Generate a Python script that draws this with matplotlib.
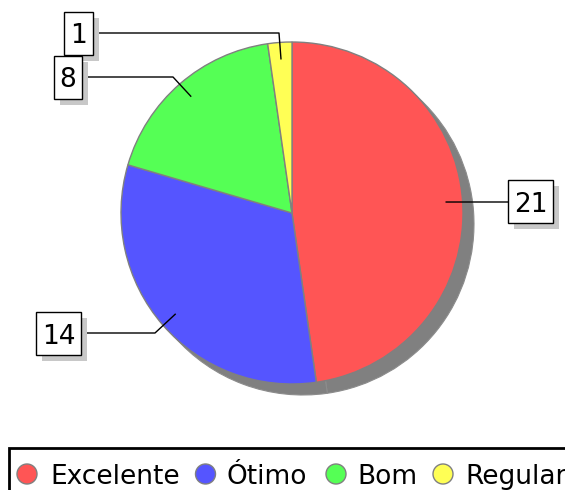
import numpy as np
import matplotlib
matplotlib.use("Agg")
import matplotlib.pyplot as plt
from matplotlib.patches import Circle, Rectangle

categories = ["Excelente", "Ótimo", "Bom", "Regular"]
values = [21, 14, 8, 1]
colors = ["#FF5555", "#5555FF", "#55FF55", "#FFFF55"]

W, H = 565, 490
fig = plt.figure(figsize=(W / 100, H / 100), dpi=100)
ax = fig.add_axes([0, 0, 1, 1])

def Y(y):
    return H - y

cx, cy, r = 292, 213, 171
shadow = (11, 11)

# shadow pie
ax.pie(values, colors=["#808080"] * 4, startangle=90, counterclock=False,
       center=(cx + shadow[0], Y(cy + shadow[1])), radius=r,
       wedgeprops=dict(edgecolor="#8c8c8c", linewidth=0.8), frame=True)
# main pie
ax.pie(values, colors=colors, startangle=90, counterclock=False,
       center=(cx, Y(cy)), radius=r,
       wedgeprops=dict(edgecolor="#808080", linewidth=1.0), frame=True)
ax.set_xlim(0, W)
ax.set_ylim(0, H)
ax.set_aspect("equal")
ax.axis("off")

# label layout (box centres and elbow points, pixel coords)
box_centres = [(530.5, 201.5), (58.5, 333.5), (68, 77.5), (78.5, 33.5)]
elbows = [(470, 202), (155, 333), (173, 77), (279, 33)]
box_edge = [508, 81, 82, 92]
box_h = 43
hpad = 6

total = sum(values)
cum = np.cumsum([0] + values)
fs = 19
order = [0, 1, 3, 2]
texts = []
z = 6
for i in order:
    mid = (cum[i] + cum[i + 1]) / 2 / total * 2 * np.pi  # clockwise from top
    ax_x = cx + 0.9 * r * np.sin(mid)
    ax_y = cy - 0.9 * r * np.cos(mid)
    ex, ey = elbows[i]
    bx, by = box_centres[i]
    ax.plot([ax_x, ex, box_edge[i]], [Y(ax_y), Y(ey), Y(ey)],
            color="black", lw=1.0, zorder=5, solid_capstyle="butt")
    t = ax.text(bx, Y(by), str(values[i]), fontsize=fs, color="black",
                ha="center", va="center_baseline", zorder=z + 2)
    texts.append((t, bx, by, z))
    z += 3

fig.canvas.draw()
inv = ax.transData.inverted()
for t, bx, by, zz in texts:
    bb = t.get_window_extent()
    (x0, _), (x1, _) = inv.transform([[bb.x0, bb.y0], [bb.x1, bb.y1]])
    w = (x1 - x0) + 2 * hpad
    left = bx - w / 2
    bottom = Y(by) - box_h / 2
    ax.add_patch(Rectangle((left + 6, bottom - 6), w, box_h, fc="#c8c8c8",
                           ec="none", zorder=zz))
    ax.add_patch(Rectangle((left, bottom), w, box_h, fc="white",
                           ec="black", lw=1.0, zorder=zz + 1))

# legend
ax.add_patch(Rectangle((9, Y(500)), 580, 52, fill=False, ec="black", lw=2.0,
                       zorder=8, clip_on=False))
circ_x = [27, 205.5, 336, 443]
text_x = [50, 227, 357, 465]
ly = 474
for i, cat in enumerate(categories):
    ax.add_patch(Circle((circ_x[i], Y(ly)), 10, fc=colors[i], ec="#808080",
                        lw=1.0, zorder=9))
    ax.text(text_x[i], Y(ly), cat, fontsize=fs, ha="left", va="center_baseline",
            zorder=9)

fig.savefig("out.png", dpi=100)
